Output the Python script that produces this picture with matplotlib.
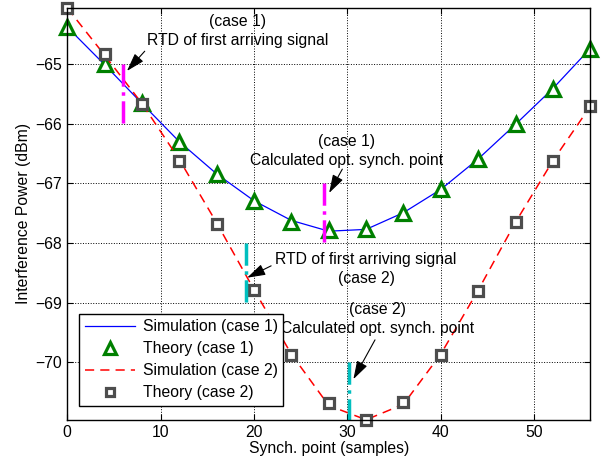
import matplotlib
matplotlib.use('Agg')
import matplotlib.pyplot as plt

plt.rcParams['font.family'] = ['Liberation Sans', 'DejaVu Sans']
plt.rcParams['font.size'] = 11.3

# synch points (samples)
synch = [0, 4, 8, 12, 16, 20, 24, 28, 32, 36, 40, 44, 48, 52, 56]

# case 1
sim_case1 = [-64.38, -65.01, -65.66, -66.30, -66.84, -67.29, -67.62, -67.80, -67.77,
             -67.49, -67.10, -66.59, -66.01, -65.41, -64.74]
theory_case1 = [-64.38, -65.00, -65.66, -66.30, -66.85, -67.29, -67.64, -67.78, -67.76,
                -67.49, -67.10, -66.59, -66.01, -65.41, -64.74]

# case 2
sim_case2 = [-64.06, -64.85, -65.66, -66.60, -67.66, -68.78, -69.86, -70.72, -70.96,
             -70.70, -69.86, -68.79, -67.65, -66.62, -65.71]
theory_case2 = [-64.06, -64.83, -65.67, -66.62, -67.68, -68.79, -69.87, -70.68, -70.96,
                -70.67, -69.87, -68.80, -67.65, -66.62, -65.71]

fig = plt.figure(figsize=(6.11, 4.68), dpi=100)
ax = fig.add_axes([0.110, 0.103, 0.856, 0.880])

ax.plot(synch, sim_case1, '-', color='blue', lw=0.9, label='Simulation (case 1)')
ax.plot(synch, theory_case1, '^', ms=10, mfc='white', mec=(0, 0.5, 0), mew=2.3,
        ls='none', clip_on=False, label='Theory (case 1)')
ax.plot(synch, sim_case2, '--', color='red', lw=1.1, dashes=(6, 4), label='Simulation (case 2)')
ax.plot(synch, theory_case2, 's', ms=7.5, mfc='white', mec=(0.3, 0.3, 0.3), mew=2.3,
        ls='none', clip_on=False, label='Theory (case 2)')

# markers for RTD and optimum synch points
ax.plot([6, 6], [-65, -66], '-.', color='magenta', lw=2.5)
ax.plot([27.5, 27.5], [-67, -68], '-.', color='magenta', lw=2.5)
ax.plot([19.1, 19.1], [-68, -69], '-.', color=(0, 0.75, 0.75), lw=2.5)
ax.plot([30.2, 30.2], [-70, -71], '-.', color=(0, 0.75, 0.75), lw=2.5)

arrow = dict(arrowstyle='-|>,head_length=0.8,head_width=0.25', color='black', lw=0.8,
             mutation_scale=14)
ax.annotate('', xy=(6.2, -65.15), xytext=(8.5, -64.75), arrowprops=arrow)
ax.text(18.2, -64.29, '(case 1)', ha='center', va='center')
ax.text(18.2, -64.60, 'RTD of first arriving signal', ha='center', va='center')

ax.annotate('', xy=(27.9, -67.2), xytext=(29.6, -66.72), arrowprops=arrow)
ax.text(29.9, -66.30, '(case 1)', ha='center', va='center')
ax.text(29.9, -66.61, 'Calculated opt. synch. point', ha='center', va='center')

ax.annotate('', xy=(19.0, -68.6), xytext=(22.1, -68.36), arrowprops=arrow)
ax.text(32.0, -68.28, 'RTD of first arriving signal', ha='center', va='center')
ax.text(32.0, -68.59, '(case 2)', ha='center', va='center')

ax.annotate('', xy=(30.5, -70.32), xytext=(33.1, -69.58), arrowprops=arrow)
ax.text(33.2, -69.12, '(case 2)', ha='center', va='center')
ax.text(33.2, -69.43, 'Calculated opt. synch. point', ha='center', va='center')

ax.set_xlim(0, 56)
ax.set_ylim(min(theory_case2), max(theory_case2))
ax.set_xticks([0, 10, 20, 30, 40, 50])
ax.set_yticks([-65, -66, -67, -68, -69, -70])
ax.tick_params(direction='in', top=True, right=True, length=4)
ax.grid(True, color='black', ls=':', lw=0.7)
for sp in ax.spines.values():
    sp.set_linewidth(1.0)

ax.set_xlabel('Synch. point (samples)', labelpad=1)
ax.set_ylabel('Interference Power (dBm)', labelpad=3)

leg = ax.legend(loc='lower left', bbox_to_anchor=(0.008, 0.015), fancybox=False,
                edgecolor='black', framealpha=1, handlelength=3.2, borderpad=0.35,
                labelspacing=0.45, handletextpad=0.5, markerscale=0.8)
leg.get_frame().set_linewidth(1.0)

fig.savefig('out.png', dpi=100)
